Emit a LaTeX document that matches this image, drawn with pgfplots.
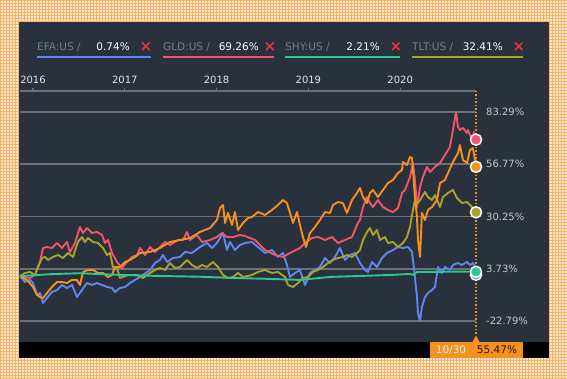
\documentclass[border=0pt]{standalone}
\usepackage{pgfplots}
\pgfplotsset{compat=1.18}
\usepackage{fontspec}
\setmainfont{DejaVu Sans}
\usetikzlibrary{patterns}
\definecolor{peach}{HTML}{FEE9D2}
\definecolor{peachline}{HTML}{F7B468}
\definecolor{panel}{HTML}{29313C}
\definecolor{gridc}{HTML}{6C7179}
\definecolor{efa}{HTML}{5F86F2}
\definecolor{gld}{HTML}{F2546A}
\definecolor{shy}{HTML}{2EC98F}
\definecolor{tlt}{HTML}{ABA22E}
\definecolor{port}{HTML}{F7901E}
\definecolor{labc}{HTML}{C3CAD2}
\definecolor{yearc}{HTML}{E2E6EB}
\definecolor{legg}{HTML}{76808B}
\definecolor{xred}{HTML}{EE3340}
\begin{document}
\begin{tikzpicture}[x=1pt,y=1pt]
\useasboundingbox (0,0) rectangle (567,378);
\fill[peach] (0,0) rectangle (567,378);
\fill[pattern=grid, pattern color=peachline] (0,0) rectangle (567,378);
\fill[panel] (19,20) rectangle (549,356);
\fill[black] (19,20) rectangle (549,36);
% legend
\begin{scope}[font=\fontsize{10.5}{12}\selectfont]
\node[anchor=base west, inner sep=0pt, text=legg] at (37,327) {EFA:US /};
\node[anchor=base east, inner sep=0pt, text=white] at (130,327) {0.74\%};
\node[anchor=center, inner sep=0pt, text=xred, font=\fontsize{15}{15}\selectfont\bfseries] at (146,331) {×};
\draw[efa, line width=2pt] (37,320.5) -- (151,320.5);
\node[anchor=base west, inner sep=0pt, text=legg] at (163,327) {GLD:US /};
\node[anchor=base east, inner sep=0pt, text=white] at (259,327) {69.26\%};
\node[anchor=center, inner sep=0pt, text=xred, font=\fontsize{15}{15}\selectfont\bfseries] at (270,331) {×};
\draw[gld, line width=2pt] (163,320.5) -- (274,320.5);
\node[anchor=base west, inner sep=0pt, text=legg] at (285,327) {SHY:US /};
\node[anchor=base east, inner sep=0pt, text=white] at (380,327) {2.21\%};
\node[anchor=center, inner sep=0pt, text=xred, font=\fontsize{15}{15}\selectfont\bfseries] at (396,331) {×};
\draw[shy, line width=2pt] (285,320.5) -- (400,320.5);
\node[anchor=base west, inner sep=0pt, text=legg] at (412,327) {TLT:US /};
\node[anchor=base east, inner sep=0pt, text=white] at (503,327) {32.41\%};
\node[anchor=center, inner sep=0pt, text=xred, font=\fontsize{15}{15}\selectfont\bfseries] at (519,331) {×};
\draw[tlt, line width=2pt] (412,320.5) -- (523,320.5);
\end{scope}
% bottom marker box
\fill[port] (430,20) rectangle (523,36);
\fill[port] (472.5,36) -- (479.5,36) -- (476,42.5) -- cycle;
\node[anchor=base, inner sep=0pt, text=white!90!port, font=\fontsize{10.5}{12}\selectfont] at (451,24.3) {10/30};
\node[anchor=base, inner sep=0pt, text=black!85!port, font=\fontsize{10.5}{12}\selectfont] at (497,24.3) {55.47\%};
\begin{axis}[
  at={(19.5pt,36pt)}, anchor=south west,
  width=456.5pt, height=251pt, scale only axis,
  xmin=2015.853, xmax=2020.826,
  ymin=-33.41, ymax=93.95,
  axis line style={draw=none},
  xtick={2016,2017,2018,2019,2020},
  xticklabels={2016,2017,2018,2019,2020},
  xtick pos=right, xticklabel pos=right,
  xtick style={draw=gridc, line width=1.2pt},
  tick align=outside, major tick length=3pt,
  ytick={-22.79,3.73,30.25,56.77,83.29},
  yticklabels={-22.79\%,3.73\%,30.25\%,56.77\%,83.29\%},
  ytick pos=right, yticklabel pos=right,
  ytick style={draw=none},
  ymajorgrids, major grid style={draw=gridc, line width=1.8pt},
  ticklabel style={font=\fontsize{10}{12}\selectfont},
  xticklabel style={text=yearc, inner sep=0pt, yshift=4pt},
  yticklabel style={text=labc, anchor=west, inner sep=0pt, xshift=7pt},
  clip=false,
  every axis plot/.append style={line width=1.9pt, line join=round},
]
\draw[gridc, line width=1.8pt] (rel axis cs:0,1) -- (rel axis cs:1,1);
\draw[port, line width=1.3pt, dash pattern=on 1.3pt off 2.2pt] (rel axis cs:1,1) -- (rel axis cs:1,0.025);
% EFA
\addplot[efa] coordinates {
(2015.858,0) (2015.913,-2.95) (2015.967,-1.94) (2016.000,-3.46) (2016.044,-9.55) (2016.076,-8.54)
(2016.109,-13.61) (2016.153,-11.07) (2016.207,-8.03) (2016.261,-7.01) (2016.316,-4.47) (2016.370,-6.00)
(2016.425,-4.47) (2016.479,-10.56) (2016.534,-7.01) (2016.588,-3.46) (2016.643,-4.47) (2016.697,-3.46)
(2016.752,-4.47) (2016.806,-5.49) (2016.861,-6.00) (2016.893,-8.03) (2016.948,-6.00) (2017.002,-5.49)
(2017.057,-3.46) (2017.166,-0.42) (2017.275,3.13) (2017.329,6.68) (2017.383,8.21) (2017.416,10.74)
(2017.460,7.19) (2017.525,9.22) (2017.601,9.73) (2017.656,12.26) (2017.732,11.76) (2017.819,14.80)
(2017.895,16.82) (2017.950,14.29) (2018.004,16.82) (2018.070,21.90) (2018.113,13.28) (2018.146,17.33)
(2018.200,13.28) (2018.255,15.81) (2018.309,16.82) (2018.386,17.33) (2018.451,14.80) (2018.527,11.76)
(2018.603,13.28) (2018.669,9.73) (2018.723,11.76) (2018.767,5.67) (2018.800,-0.42) (2018.854,1.61)
(2018.908,3.13) (2018.963,-4.47) (2019.017,1.61) (2019.072,3.13) (2019.126,4.65) (2019.181,9.22)
(2019.235,6.68) (2019.290,9.73) (2019.344,14.29) (2019.399,8.21) (2019.453,10.74) (2019.508,11.76)
(2019.562,6.68) (2019.617,3.13) (2019.649,2.12) (2019.693,7.19) (2019.747,4.65) (2019.802,9.22)
(2019.856,11.76) (2019.922,13.28) (2019.976,14.80) (2020.031,14.29) (2020.085,14.80) (2020.129,12.26)
(2020.139,8.21) (2020.161,-0.42) (2020.183,-10.56) (2020.194,-18.68) (2020.216,-22.79) (2020.237,-15.64)
(2020.270,-10.56) (2020.303,-8.54) (2020.346,-7.01) (2020.379,-5.49) (2020.412,4.65) (2020.455,1.61)
(2020.488,4.65) (2020.542,3.13) (2020.575,5.67) (2020.630,6.68) (2020.673,5.67) (2020.728,7.19)
(2020.760,5.67) (2020.793,6.68) (2020.815,4.65) (2020.826,0.74)
};
% GLD
\addplot[gld] coordinates {
(2015.858,0) (2015.967,-0.92) (2016.022,0.60) (2016.076,7.19) (2016.109,14.29) (2016.153,14.80)
(2016.207,14.29) (2016.261,16.82) (2016.316,14.29) (2016.370,17.33) (2016.403,12.26) (2016.458,16.82)
(2016.512,24.94) (2016.545,21.90) (2016.588,24.43) (2016.643,21.90) (2016.697,22.40) (2016.752,20.88)
(2016.784,16.82) (2016.817,18.35) (2016.861,11.76) (2016.915,7.19) (2016.969,4.15) (2017.024,7.19)
(2017.078,9.73) (2017.133,10.74) (2017.166,14.29) (2017.220,10.74) (2017.275,14.80) (2017.329,12.26)
(2017.383,14.80) (2017.438,17.33) (2017.492,15.81) (2017.580,18.35) (2017.634,18.35) (2017.678,22.40)
(2017.710,18.35) (2017.786,20.88) (2017.841,17.33) (2017.928,18.35) (2018.004,19.87) (2018.059,21.90)
(2018.113,19.87) (2018.179,19.87) (2018.255,20.88) (2018.309,20.37) (2018.418,18.35) (2018.527,13.28)
(2018.636,10.74) (2018.723,9.73) (2018.800,11.76) (2018.908,14.29) (2018.963,16.82) (2019.039,19.36)
(2019.105,19.87) (2019.181,18.35) (2019.257,19.87) (2019.322,16.82) (2019.399,18.35) (2019.475,19.87)
(2019.540,26.97) (2019.562,28.49) (2019.595,35.09) (2019.638,40.16) (2019.671,37.12) (2019.704,35.09)
(2019.758,38.64) (2019.813,35.09) (2019.867,33.56) (2019.922,32.55) (2019.976,34.58) (2020.020,42.20)
(2020.052,43.72) (2020.107,50.32) (2020.139,57.42) (2020.161,48.79) (2020.183,35.09) (2020.216,45.24)
(2020.248,50.32) (2020.292,55.39) (2020.325,52.85) (2020.379,55.39) (2020.434,57.42) (2020.488,61.47)
(2020.542,65.53) (2020.575,74.16) (2020.608,83.29) (2020.630,75.68) (2020.651,74.16) (2020.684,75.17)
(2020.728,72.64) (2020.739,74.16) (2020.782,69.08) (2020.804,73.14) (2020.826,69.26)
};
% TLT
\addplot[tlt] coordinates {
(2015.858,0) (2015.913,1.61) (2015.967,2.12) (2016.022,0.60) (2016.054,4.65) (2016.098,9.22)
(2016.131,9.73) (2016.163,8.21) (2016.218,9.73) (2016.272,10.74) (2016.327,9.22) (2016.381,11.76)
(2016.436,9.73) (2016.490,17.33) (2016.534,19.87) (2016.566,17.33) (2016.599,19.36) (2016.654,17.33)
(2016.708,16.82) (2016.763,14.29) (2016.806,10.74) (2016.839,11.76) (2016.871,4.65) (2016.915,4.15)
(2016.948,-0.92) (2016.980,-0.42) (2017.035,0.60) (2017.133,0.60) (2017.198,-0.92) (2017.275,1.61)
(2017.329,3.13) (2017.383,4.15) (2017.438,3.13) (2017.492,6.68) (2017.547,4.15) (2017.601,4.65)
(2017.678,8.21) (2017.732,5.67) (2017.786,4.15) (2017.841,5.67) (2017.895,4.65) (2017.961,7.19)
(2018.015,4.65) (2018.070,0.60) (2018.124,-0.92) (2018.179,-0.42) (2018.233,1.61) (2018.288,-0.42)
(2018.386,0.60) (2018.451,2.12) (2018.527,3.13) (2018.603,1.61) (2018.669,2.12) (2018.745,-0.42)
(2018.778,-4.47) (2018.832,-5.49) (2018.887,-3.46) (2018.941,-0.92) (2018.996,-0.42) (2019.050,2.12)
(2019.105,3.13) (2019.159,4.65) (2019.214,6.68) (2019.268,8.21) (2019.322,9.22) (2019.377,9.73)
(2019.420,10.74) (2019.475,9.73) (2019.529,11.76) (2019.562,13.28) (2019.595,18.35) (2019.638,22.40)
(2019.671,24.43) (2019.704,20.88) (2019.747,23.42) (2019.780,18.35) (2019.834,19.87) (2019.867,16.82)
(2019.922,17.33) (2019.976,14.80) (2020.031,16.82) (2020.074,19.87) (2020.107,24.94) (2020.139,33.56)
(2020.161,38.64) (2020.194,37.12) (2020.237,40.16) (2020.270,42.70) (2020.303,40.16) (2020.346,38.64)
(2020.379,41.18) (2020.434,35.09) (2020.466,40.16) (2020.521,42.20) (2020.575,43.72) (2020.619,39.66)
(2020.673,37.12) (2020.728,37.63) (2020.782,35.09) (2020.826,32.41)
};
% Portfolio
\addplot[port] coordinates {
(2015.858,0) (2015.935,-1.94) (2016.000,-5.49) (2016.044,-9.55) (2016.076,-10.56) (2016.109,-11.07)
(2016.153,-8.54) (2016.207,-5.49) (2016.261,-2.95) (2016.316,-2.95) (2016.370,-3.46) (2016.425,-1.94)
(2016.479,-1.94) (2016.512,-4.47) (2016.545,2.12) (2016.599,3.13) (2016.654,3.13) (2016.708,1.61)
(2016.763,1.61) (2016.817,-0.42) (2016.861,0.60) (2016.893,4.65) (2016.948,4.65) (2017.002,7.19)
(2017.057,8.21) (2017.111,9.73) (2017.166,11.76) (2017.275,12.26) (2017.383,14.29) (2017.492,17.33)
(2017.601,18.35) (2017.710,19.36) (2017.819,22.40) (2017.928,24.43) (2018.004,28.49) (2018.037,34.58)
(2018.070,36.11) (2018.092,26.97) (2018.124,32.04) (2018.168,25.96) (2018.200,32.55) (2018.233,23.42)
(2018.288,26.97) (2018.342,29.51) (2018.386,30.02) (2018.451,32.55) (2018.527,31.03) (2018.603,33.56)
(2018.669,36.11) (2018.723,38.64) (2018.767,37.12) (2018.800,32.04) (2018.832,26.97) (2018.876,32.55)
(2018.908,25.96) (2018.941,19.87) (2018.974,14.80) (2019.017,21.90) (2019.072,24.94) (2019.126,28.49)
(2019.181,32.55) (2019.235,32.04) (2019.268,36.11) (2019.322,37.63) (2019.377,37.12) (2019.420,32.04)
(2019.475,38.64) (2019.529,42.20) (2019.562,44.74) (2019.595,40.16) (2019.638,37.12) (2019.671,42.20)
(2019.704,43.72) (2019.758,40.16) (2019.813,43.72) (2019.867,47.27) (2019.922,48.79) (2019.976,52.34)
(2020.020,53.87) (2020.031,57.92) (2020.074,56.40) (2020.107,60.46) (2020.129,59.95) (2020.139,53.87)
(2020.161,40.16) (2020.183,30.02) (2020.194,18.35) (2020.216,9.73) (2020.237,32.04) (2020.270,28.49)
(2020.303,33.56) (2020.346,35.09) (2020.401,38.64) (2020.434,47.27) (2020.488,48.79) (2020.521,52.34)
(2020.575,57.92) (2020.630,62.49) (2020.651,66.55) (2020.684,58.94) (2020.728,57.42) (2020.760,64.01)
(2020.793,65.02) (2020.815,58.94) (2020.826,55.47)
};
% SHY
\addplot[shy] coordinates {
(2015.858,0) (2016.185,1.0) (2016.512,1.5) (2016.839,0.8) (2017.275,0.2) (2017.819,-0.3)
(2018.179,-0.9) (2018.582,-1.4) (2018.908,-1.9) (2019.235,-0.4) (2019.562,0.1) (2019.889,0.6)
(2020.107,1.1) (2020.139,0.6) (2020.183,2.1) (2020.434,2.2) (2020.651,2.3) (2020.826,2.21)
};
% end markers
\addplot[only marks, mark=*, mark size=5.6pt, draw=white, fill=efa, line width=1.5pt] coordinates {(2020.826,0.74)};
\addplot[only marks, mark=*, mark size=5.6pt, draw=white, fill=shy, line width=1.5pt] coordinates {(2020.826,2.21)};
\addplot[only marks, mark=*, mark size=5.6pt, draw=white, fill=tlt, line width=1.5pt] coordinates {(2020.826,32.41)};
\addplot[only marks, mark=*, mark size=5.6pt, draw=white, fill=port, line width=1.5pt] coordinates {(2020.826,55.47)};
\addplot[only marks, mark=*, mark size=5.6pt, draw=white, fill=gld, line width=1.5pt] coordinates {(2020.826,69.26)};
\end{axis}
\end{tikzpicture}
\end{document}
